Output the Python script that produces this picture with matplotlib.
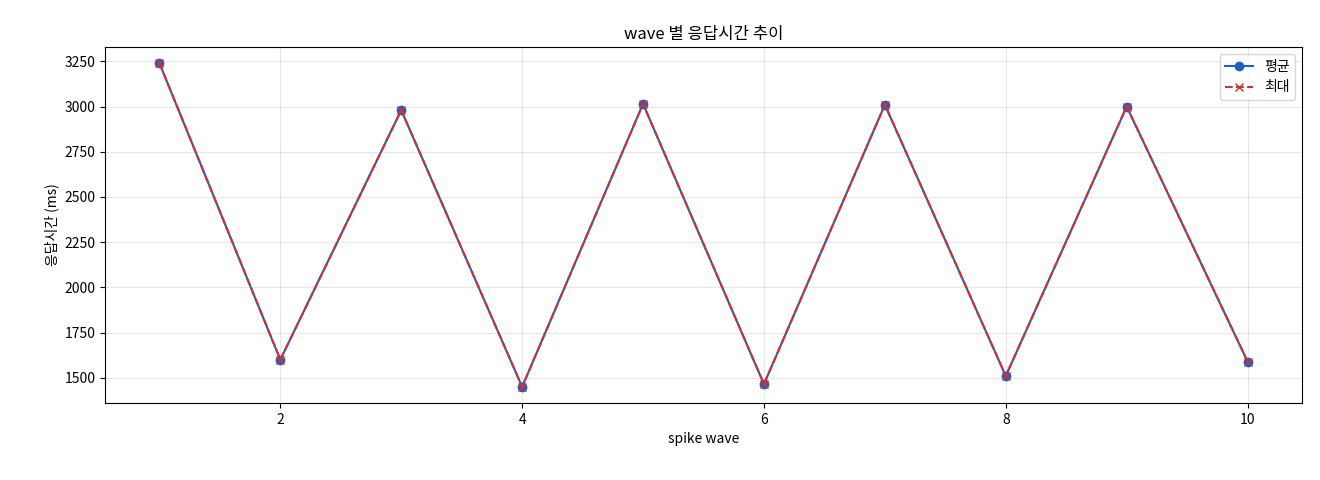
import matplotlib
matplotlib.use("Agg")
import matplotlib.pyplot as plt

plt.rcParams['font.family'] = ['Noto Sans CJK KR', 'DejaVu Sans']

waves = [1, 2, 3, 4, 5, 6, 7, 8, 9, 10]
avg_ms = [3240, 1600, 2980, 1450, 3015, 1465, 3010, 1510, 3000, 1590]
max_ms = [3240, 1600, 2980, 1450, 3015, 1465, 3010, 1510, 3000, 1590]

fig = plt.figure(figsize=(13.2, 4.8), dpi=100)
ax = fig.add_axes([105/1320, 1-403/480, (1302-105)/1320, (403-47)/480])
ax.plot(waves, avg_ms, marker='o', color='#1f5fbf', label='평균', markersize=6)
ax.plot(waves, max_ms, marker='x', linestyle='--', color='#d62f2f', label='최대', markersize=6)
ax.set_title('wave 별 응답시간 추이')
ax.set_xlabel('spike wave')
ax.set_ylabel('응답시간 (ms)')
ax.set_yticks([1500, 1750, 2000, 2250, 2500, 2750, 3000, 3250])
ax.grid(True, alpha=0.3)
ax.legend(loc='upper right')
fig.savefig('out.png', dpi=100)
